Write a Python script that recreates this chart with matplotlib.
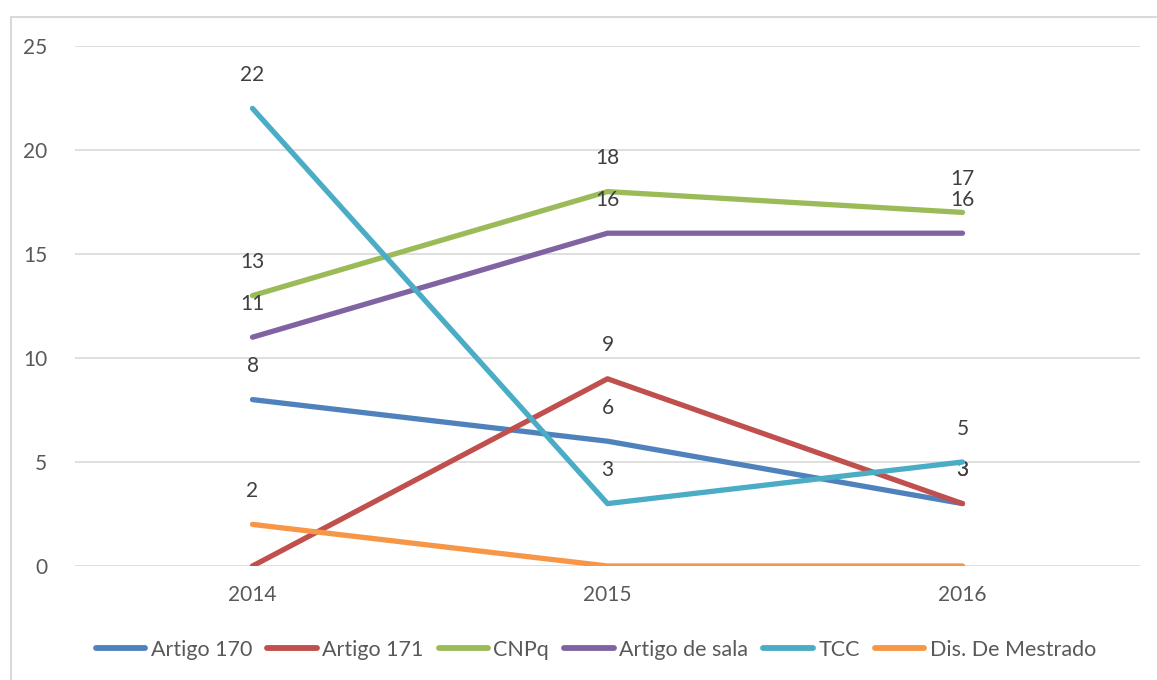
import matplotlib.pyplot as plt
from matplotlib.patches import Rectangle
import numpy as np

plt.rcParams['font.family'] = ['Lato', 'DejaVu Sans']

anos = ['2014', '2015', '2016']
artigo_170 = [8, 6, 3]
artigo_171 = [0, 9, 3]
cnpq = [13, 18, 17]
artigo_sala = [11, 16, 16]
tcc = [22, 3, 5]
dis_mestrado = [2, 0, 0]

series = [
    ('Artigo 170', artigo_170, '#4F81BD'),
    ('Artigo 171', artigo_171, '#C0504D'),
    ('CNPq', cnpq, '#9BBB59'),
    ('Artigo de sala', artigo_sala, '#8064A2'),
    ('TCC', tcc, '#4BACC6'),
    ('Dis. De Mestrado', dis_mestrado, '#F79646'),
]

fig = plt.figure(figsize=(11.57, 6.8), dpi=100)
ax = fig.add_axes([75 / 1157, 114 / 680, 1065 / 1157, 520 / 680])

# chart frame, runs off the right and bottom edges
fig.patches.append(Rectangle((11 / 1157, -0.1), 1.2, 1 - 17 / 680 + 0.1,
                             transform=fig.transFigure, fill=False,
                             edgecolor='#D9D9D9', linewidth=1.5))

x = np.arange(len(anos))
for nome, valores, cor in series:
    ax.plot(x, valores, color=cor, linewidth=3.8, solid_capstyle='round',
            label=nome, zorder=3)
    for xi, v in zip(x, valores):
        if v == 0:
            continue
        ax.annotate(str(v), (xi, v), xytext=(0, 24), textcoords='offset points',
                    ha='center', va='center', fontsize=15, color='#404040')

ax.set_xlim(-0.5, 2.5)
ax.set_ylim(0, 25)
ax.set_yticks(range(0, 26, 5))
ax.set_xticks(x)
ax.set_xticklabels(anos)
ax.tick_params(length=0, labelsize=15, labelcolor='#595959')
ax.tick_params(axis='y', pad=20)
ax.tick_params(axis='x', pad=14)
ax.grid(axis='y', color='#D9D9D9', linewidth=1.2)
ax.set_axisbelow(True)
for s in ax.spines.values():
    s.set_visible(False)

leg = fig.legend(loc='center', bbox_to_anchor=(0.515, 1 - 650 / 680), ncol=6,
                 frameon=False, fontsize=15.5, handlelength=2.3, handletextpad=0.25,
                 columnspacing=0.7, labelcolor='#595959')
for h in leg.legend_handles:
    h.set_linewidth(4.2)
    h.set_solid_capstyle('round')

plt.savefig('out.png')
